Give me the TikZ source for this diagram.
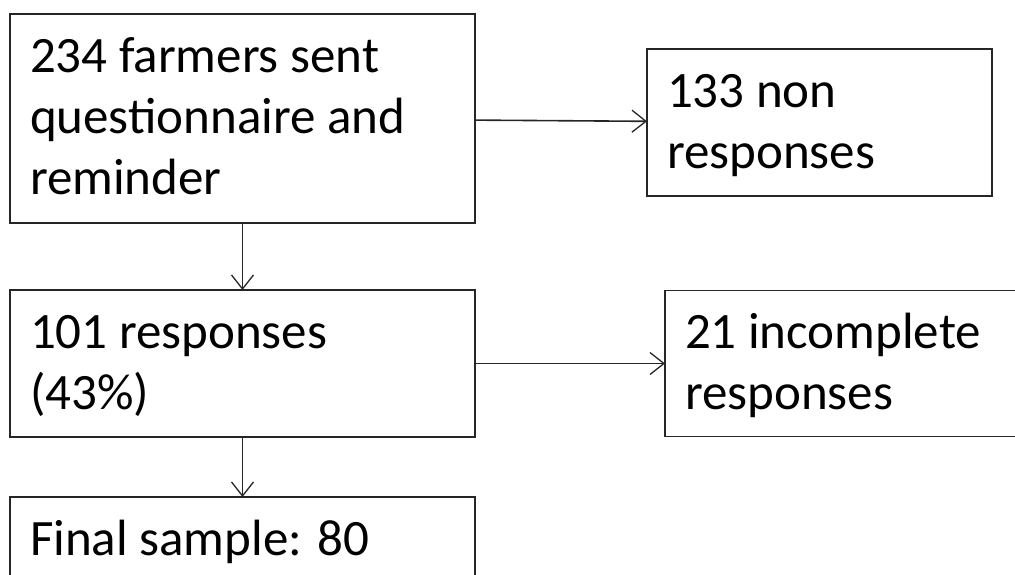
\documentclass[tikz,border=0pt]{standalone}
\usepackage{fontspec}
\setmainfont{Carlito}
\usetikzlibrary{arrows.meta, positioning}

\begin{document}
\begin{tikzpicture}[
    x=1pt, y=1pt,
    box/.style={rectangle, draw=black!85, line width=1.8pt, align=flush left, inner xsep=20pt, inner ysep=0pt, outer sep=0pt, text height=58pt, font=\fontsize{51}{61}\selectfont},
    arrow/.style={-{Straight Barb[length=14pt, width=22pt, line width=1.3pt]}, line width=1.6pt, draw=black!85}
]

\useasboundingbox (0,0) rectangle (1015,-574);
\clip (0,0) rectangle (1015,-574);

\node[box, anchor=north west, text width=425pt, text depth=151pt] (sent) at (10,-14) {234 farmers sent\\questionnaire and\\reminder};
\node[box, text width=305pt, text depth=89pt, right=172pt of sent, yshift=-4pt] (nonresp) {133 non\\responses};
\node[box, text width=425pt, text depth=89pt, below=67pt of sent] (resp) {101 responses\\(43\%)};
\node[box, text width=315pt, text depth=88pt, right=190pt of resp] (incompl) {21 incomplete\\responses};
\node[box, text width=425pt, text depth=89pt, below=60pt of resp] (final) {Final sample: 80};

\draw[arrow] (sent) -- (nonresp);
\draw[arrow] (sent) -- (resp);
\draw[arrow] (resp) -- (incompl);
\draw[arrow] (resp) -- (final);

\end{tikzpicture}
\end{document}
